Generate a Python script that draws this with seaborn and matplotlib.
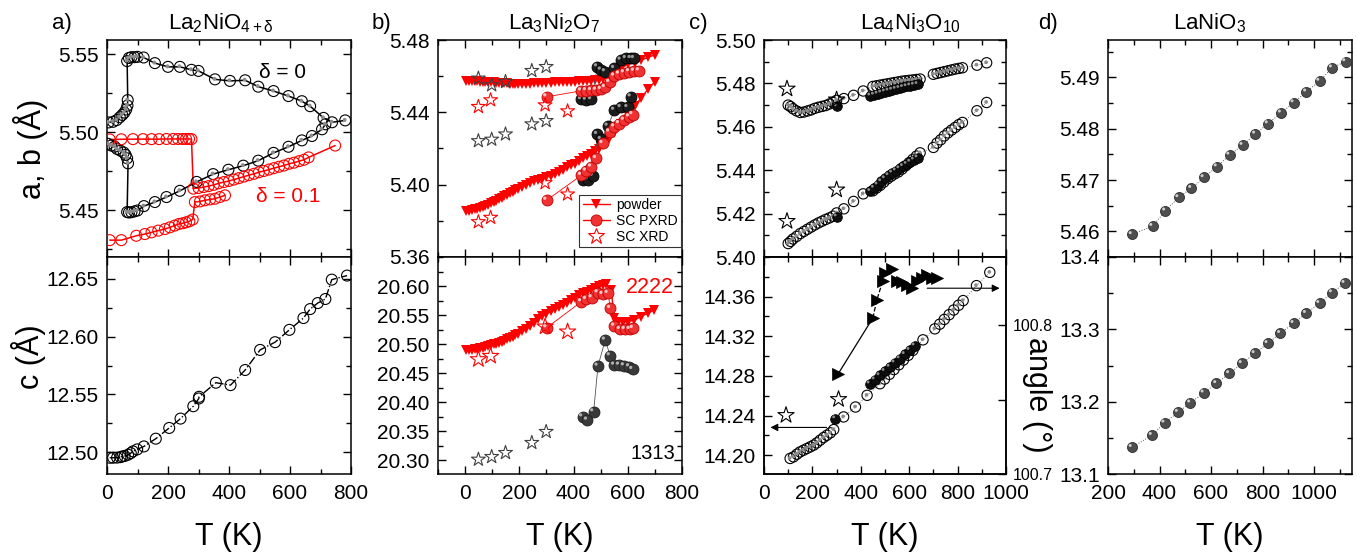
import numpy as np
import matplotlib
matplotlib.use("Agg")
import matplotlib.pyplot as plt
import seaborn as sns
from matplotlib.path import Path
from matplotlib.lines import Line2D
from matplotlib.ticker import MultipleLocator, FixedLocator, FormatStrFormatter

# ---------------- data ----------------
# panel a) La2NiO4+d, delta = 0 (black) a/b lattice parameters
a0_up_T = [5, 20, 32, 42, 50, 57, 63, 67, 68, 66, 72, 80, 90, 100, 120, 157, 200, 239, 277, 300,
           354, 403, 453, 496, 546, 595, 639, 666, 710, 738, 781]
a0_up_v = [5.5062, 5.5066, 5.5077, 5.5095, 5.5110, 5.5125, 5.5145, 5.5170, 5.5205, 5.5455, 5.5475,
           5.5480, 5.5480, 5.5482, 5.5478, 5.5442, 5.5418, 5.5418, 5.5399, 5.5392, 5.5338, 5.5328,
           5.5332, 5.5291, 5.5263, 5.5231, 5.5198, 5.5166, 5.5091, 5.5063, 5.5075]
a0_lo_T = [3, 14, 25, 33, 44, 55, 61, 66, 69, 66, 72, 80, 90, 100, 121, 157, 195, 239, 294, 348,
           398, 447, 496, 546, 595, 639, 672, 705, 716]
a0_lo_v = [5.4925, 5.4914, 5.4907, 5.4892, 5.4881, 5.4869, 5.4854, 5.4832, 5.4800, 5.4488, 5.4485,
           5.4487, 5.4492, 5.4498, 5.4526, 5.4552, 5.4584, 5.4624, 5.4681, 5.4731, 5.4759, 5.4785,
           5.4817, 5.4867, 5.4906, 5.4947, 5.4975, 5.5018, 5.5050]
# delta = 0.1 (red)
a1_up_T = [9, 47, 85, 118, 146, 171, 195, 217, 233, 248, 259, 269, 277, 283, 300, 317, 333, 350,
           366, 383, 400, 416, 432, 449, 465, 482, 498, 514, 531, 547, 564, 580, 597, 613, 630, 646,
           661, 748]
a1_up_v = [5.4953, 5.4954, 5.4955, 5.4955, 5.4955, 5.4955, 5.4956, 5.4956, 5.4956, 5.4956, 5.4956,
           5.4956, 5.4955, 5.4638, 5.4642, 5.4648, 5.4654, 5.4662, 5.4672, 5.4680, 5.4687, 5.4696,
           5.4705, 5.4715, 5.4724, 5.4733, 5.4743, 5.4751, 5.4760, 5.4769, 5.4778, 5.4786, 5.4797,
           5.4804, 5.4814, 5.4823, 5.4838, 5.4914]
a1_lo_T = [9, 47, 96, 124, 146, 168, 190, 206, 222, 236, 248, 259, 270, 281, 288, 305, 321, 338,
           354, 370, 387]
a1_lo_v = [5.4308, 5.4308, 5.4336, 5.4347, 5.4358, 5.4369, 5.4379, 5.4390, 5.4401, 5.4412, 5.4416,
           5.4422, 5.4429, 5.4440, 5.4552, 5.4556, 5.4563, 5.4569, 5.4573, 5.4584, 5.4595]
# c lattice parameter
ac_T = [9, 20, 33, 44, 50, 58, 69, 78, 85, 99, 121, 160, 204, 241, 283, 301, 302, 357, 405, 453,
        502, 551, 598, 644, 666, 691, 716, 737, 787]
ac_v = [12.4951, 12.4951, 12.4952, 12.4956, 12.4962, 12.4966, 12.4977, 12.4991, 12.5006, 12.5023,
        12.5049, 12.5116, 12.5209, 12.5290, 12.5397, 12.5464, 12.5479, 12.5601, 12.5580, 12.5711,
        12.5885, 12.5952, 12.6059, 12.6161, 12.6239, 12.6291, 12.6326, 12.6494, 12.6529]

# panel b) La3Ni2O7
pw_T_lo = [5, 15, 25, 35, 45, 55, 65, 75, 85, 95, 105, 115, 125, 135, 145, 155, 165, 175, 185,
           195, 210, 225, 240, 255, 270, 285, 300, 315, 330, 345, 360, 375, 390, 405, 420, 435,
           450, 465, 480, 495]
pw_T_hi_ab = [510, 530, 550, 575, 600, 625, 650, 675, 700]
pw_T_hi_c = [510, 520, 539, 550, 565, 582, 600, 624, 648, 673, 697]
pw_a_up = [5.4575, 5.4574, 5.4573, 5.4572, 5.4571, 5.4570, 5.4569, 5.4568, 5.4567, 5.4566, 5.4565,
           5.4564, 5.4563, 5.4562, 5.4561, 5.4560, 5.4559, 5.4558, 5.4558, 5.4557, 5.4557, 5.4558,
           5.4559, 5.4560, 5.4561, 5.4562, 5.4563, 5.4564, 5.4565, 5.4566, 5.4567, 5.4568, 5.4569,
           5.4570, 5.4571, 5.4572, 5.4573, 5.4575, 5.4577, 5.4580,
           5.4586, 5.4595, 5.4612, 5.4645, 5.4665, 5.4675, 5.4688, 5.4705, 5.4717]
pw_a_lo = [5.3855, 5.3857, 5.3860, 5.3864, 5.3868, 5.3873, 5.3878, 5.3884, 5.3890, 5.3897, 5.3904,
           5.3912, 5.3920, 5.3928, 5.3936, 5.3944, 5.3952, 5.3960, 5.3968, 5.3976, 5.3988, 5.4000,
           5.4010, 5.4020, 5.4027, 5.4033, 5.4040, 5.4050, 5.4060, 5.4072, 5.4083, 5.4095, 5.4106,
           5.4117, 5.4130, 5.4145, 5.4160, 5.4172, 5.4185, 5.4200,
           5.4222, 5.4250, 5.4283, 5.4335, 5.4385, 5.4434, 5.4482, 5.4528, 5.4570]
pw_c = [20.4893, 20.4897, 20.4903, 20.4910, 20.4919, 20.4929, 20.4940, 20.4951, 20.4963, 20.4977,
        20.4992, 20.5007, 20.5024, 20.5042, 20.5060, 20.5080, 20.5102, 20.5124, 20.5148, 20.5175,
        20.5218, 20.5262, 20.5315, 20.5370, 20.5425, 20.5480, 20.5520, 20.5562, 20.5598, 20.5635,
        20.5675, 20.5715, 20.5757, 20.5799, 20.5838, 20.5873, 20.5905, 20.5937, 20.5968, 20.6005,
        20.6020, 20.6030, 20.5930, 20.5443, 20.5385, 20.5385, 20.5385, 20.5414, 20.5471, 20.5529,
        20.5586]
px_up_T = [301, 429, 447, 466, 484, 502, 517, 533, 551, 569, 587, 606, 624, 642]
px_up_v = [5.4486, 5.4519, 5.4520, 5.4521, 5.4523, 5.4527, 5.4538, 5.4566, 5.4601, 5.4612, 5.4619,
           5.4625, 5.4628, 5.4630]
px_lo_T = [301, 429, 447, 466, 484, 508, 533, 551, 569, 587, 606, 618]
px_lo_v = [5.3914, 5.4052, 5.4076, 5.4098, 5.4145, 5.4228, 5.4292, 5.4320, 5.4338, 5.4357, 5.4375,
           5.4388]
px_c_T = [301, 429, 447, 468, 490, 508, 527, 536, 551, 572, 590, 608, 620]
px_c_v = [20.5282, 20.5730, 20.5770, 20.5799, 20.5885, 20.5856, 20.5874, 20.5615, 20.5310, 20.5253,
          20.5253, 20.5253, 20.5270]
bk_up_T = [429, 447, 466, 488, 502, 517, 551, 575, 594, 612, 624]
bk_up_v = [5.4471, 5.4468, 5.4471, 5.4652, 5.4634, 5.4625, 5.4643, 5.4689, 5.4698, 5.4698, 5.4698]
bk_lo_T = [435, 453, 472, 488, 502, 527, 551, 575, 600, 612]
bk_lo_v = [5.4024, 5.4028, 5.4047, 5.4278, 5.4250, 5.4324, 5.4412, 5.4427, 5.4427, 5.4486]
bk_c_T = [433, 451, 474, 490, 517, 535, 551, 569, 587, 606, 618]
bk_c_v = [20.3747, 20.3690, 20.3833, 20.4620, 20.5069, 20.4799, 20.4638, 20.4638, 20.4626, 20.4609,
          20.4563]
st_red_T = [49, 94, 295, 378]
st_red_up = [5.4431, 5.4468, 5.4440, 5.4407]
st_red_lo = [5.3794, 5.3818, 5.4010, 5.3947]
st_red_c = [20.4736, 20.4793, 20.5299, 20.5213]
st_gry_T = [49, 98, 149, 246, 299]
st_gry_up = [5.4588, 5.4551, 5.4569, 5.4630, 5.4652]
st_gry_lo = [5.4242, 5.4250, 5.4279, 5.4335, 5.4353]
st_gry_c = [20.3011, 20.3057, 20.3126, 20.3299, 20.3489]

# panel c) La4Ni3O10
c_open_T = [100, 110, 120, 135, 150, 165, 180, 195, 210, 225, 240, 255, 270, 285, 300, 330, 370,
            410, 450, 465, 480, 495, 510, 525, 540, 555, 570, 585, 600, 615, 630, 645, 700, 715,
            730, 745, 760, 775, 790, 805, 820, 880, 920]
c_open_up = [5.4700, 5.4693, 5.4683, 5.4673, 5.4666, 5.4668, 5.4673, 5.4678, 5.4685, 5.4690,
             5.4694, 5.4698, 5.4705, 5.4712, 5.4722, 5.4730, 5.4745, 5.4765, 5.4786, 5.4789,
             5.4792, 5.4795, 5.4798, 5.4801, 5.4804, 5.4807, 5.4810, 5.4812, 5.4814, 5.4816,
             5.4818, 5.4820, 5.4842, 5.4846, 5.4850, 5.4854, 5.4858, 5.4862, 5.4866, 5.4869,
             5.4872, 5.4884, 5.4895]
c_open_lo = [5.4062, 5.4072, 5.4083, 5.4095, 5.4108, 5.4118, 5.4128, 5.4138, 5.4148, 5.4157,
             5.4165, 5.4173, 5.4180, 5.4188, 5.4203, 5.4222, 5.4256, 5.4291, 5.4305, 5.4318,
             5.4330, 5.4345, 5.4360, 5.4372, 5.4383, 5.4392, 5.4405, 5.4420, 5.4435, 5.4450,
             5.4465, 5.4480, 5.4505, 5.4525, 5.4540, 5.4558, 5.4572, 5.4585, 5.4597, 5.4610,
             5.4620, 5.4674, 5.4712]
cb_T = [301, 440, 455, 470, 485, 500, 515, 530, 545, 560, 575, 590, 605, 620, 635]
cb_up = [5.4694, 5.4743, 5.4747, 5.4752, 5.4757, 5.4762, 5.4766, 5.4770, 5.4774, 5.4778, 5.4782,
         5.4786, 5.4790, 5.4793, 5.4796]
cb_lo = [5.4186, 5.4303, 5.4318, 5.4333, 5.4348, 5.4362, 5.4376, 5.4388, 5.4398, 5.4408, 5.4418,
         5.4428, 5.4438, 5.4448, 5.4458]
cs_T = [95, 300]
cs_up = [5.4775, 5.4725]
cs_lo = [5.4165, 5.4310]
cc_open_T = [108, 122, 136, 149, 163, 177, 191, 205, 218, 232, 246, 260, 274, 288, 329, 378, 426,
             479, 498, 518, 537, 557, 576, 596, 615, 657, 706, 726, 745, 765, 784, 804, 823, 878,
             933]
cc_open_v = [14.1967, 14.1983, 14.2010, 14.2033, 14.2050, 14.2067, 14.2084, 14.2101, 14.2124,
             14.2151, 14.2178, 14.2201, 14.2225, 14.2258, 14.2386, 14.2486, 14.2604, 14.2721,
             14.2768, 14.2816, 14.2864, 14.2912, 14.2960, 14.3008, 14.3057, 14.3164, 14.3275,
             14.3322, 14.3370, 14.3418, 14.3465, 14.3513, 14.3560, 14.3711, 14.3845]
cc_blk_T = [295, 437, 458, 478, 499, 520, 540, 561, 582, 602, 623]
cc_blk_v = [14.2369, 14.2721, 14.2763, 14.2805, 14.2848, 14.2890, 14.2933, 14.2975, 14.3018,
            14.3060, 14.3105]
cc_star_T = [91, 308]
cc_star_v = [14.2403, 14.2564]
ang_T = [305, 450, 466, 491, 499, 528, 549, 570, 590, 611, 631, 652, 673, 693, 714]
ang_v = [100.767, 100.805, 100.817, 100.830, 100.835, 100.838, 100.830, 100.829, 100.827, 100.825,
         100.830, 100.832, 100.834, 100.832, 100.832]
arrow_left = (270, 15, 14.228)      # from T, to T, at c
arrow_right = (663, 985, 100.825)   # from T, to T, at angle

# panel d) LaNiO3
d_aT = [293, 373, 423, 474, 524, 572, 623, 672, 723, 772, 821, 872, 921, 970, 1021, 1070, 1122]
d_a = [5.4594, 5.4610, 5.4640, 5.4666, 5.4684, 5.4705, 5.4726, 5.4749, 5.4768, 5.4790, 5.4810,
       5.4831, 5.4851, 5.4872, 5.4893, 5.4919, 5.4931]
d_cT = [293, 371, 420, 472, 520, 572, 621, 671, 720, 770, 820, 869, 921, 969, 1021, 1070, 1119]
d_c = [13.1370, 13.1536, 13.1707, 13.1855, 13.1984, 13.2122, 13.2252, 13.2390, 13.2529, 13.2667,
       13.2806, 13.2945, 13.3083, 13.3222, 13.3360, 13.3508, 13.3637]

titles = [r'La$_2$NiO$_{4+\delta}$', r'La$_3$Ni$_2$O$_7$', r'La$_4$Ni$_3$O$_{10}$', r'LaNiO$_3$']
panel_tags = ['a)', 'b)', 'c)', 'd)']
legend_labels = ['powder', 'SC PXRD', 'SC XRD']

# ---------------- style ----------------
sns.set_style("ticks")
plt.rcParams.update({
    'font.family': ['Liberation Sans', 'DejaVu Sans'],
    'mathtext.fontset': 'custom',
    'mathtext.rm': 'Liberation Sans',
    'mathtext.it': 'Liberation Sans',
    'mathtext.bf': 'Liberation Sans:bold',
    'text.color': 'black', 'axes.labelcolor': 'black',
    'xtick.color': 'black', 'ytick.color': 'black',
    'axes.edgecolor': 'black', 'axes.linewidth': 1.1,
})

W, H = 1357, 552
fig = plt.figure(figsize=(W / 100, H / 100), dpi=100)


def rect(l, r, t, b):
    return [l / W, 1 - b / H, (r - l) / W, (b - t) / H]


cols = {'a': (107, 351), 'b': (438, 682), 'c': (764, 1006), 'd': (1108, 1352)}
axs = {}
for k, (l, r) in cols.items():
    axs[k + 't'] = fig.add_axes(rect(l, r, 40, 257))
    axs[k + 'b'] = fig.add_axes(rect(l, r, 257, 474))


def circ_marker(cx, cy, r):
    c = Path.circle((cx, cy), r)
    verts = np.vstack([[1.0, 0.0], [-1.0, 0.0], c.vertices])
    codes = np.concatenate([[Path.MOVETO, Path.MOVETO], c.codes])
    return Path(verts, codes)


HILITE = circ_marker(-0.36, 0.36, 0.30)
CDOT = circ_marker(-0.10, 0.10, 0.36)


def scat(ax, x, y, z=3, **kw):
    sns.scatterplot(x=np.asarray(x, float), y=np.asarray(y, float), ax=ax, legend=False,
                    zorder=z, **kw)


def line(ax, x, y, z=2, **kw):
    sns.lineplot(x=np.asarray(x, float), y=np.asarray(y, float), ax=ax, sort=False,
                 estimator=None, legend=False, zorder=z, **kw)


def balls(ax, x, y, face, edge, hi, s, z=3):
    scat(ax, x, y, z=z, s=s, color=face, edgecolor=edge, linewidth=0.6)
    scat(ax, x, y, z=z + 0.01, s=s, marker=HILITE, color=hi, edgecolor='none', linewidth=0)


def ring_dot(ax, x, y, s, z=3, edge='black', dot='#8c8c8c'):
    scat(ax, x, y, z=z, s=s, color=edge, facecolor='none', edgecolor=edge, linewidth=0.8)
    scat(ax, x, y, z=z + 0.01, s=s, marker=CDOT, color=dot, edgecolor='none', linewidth=0)


def rings(ax, x, y, s, color, z=3):
    scat(ax, x, y, z=z, s=s, color=color, facecolor='none', edgecolor=color, linewidth=0.8)


def stars(ax, x, y, color, s=110, z=5):
    scat(ax, x, y, z=z, s=s, marker='*', color=color, facecolor='none', edgecolor=color,
         linewidth=0.8)


RED = '#ff0000'

# ---- panel a ----
ax = axs['at']
line(ax, a0_up_T, a0_up_v, color='black', lw=1.1)
line(ax, a0_lo_T, a0_lo_v, color='black', lw=1.1)
ring_dot(ax, a0_up_T, a0_up_v, s=62)
ring_dot(ax, a0_lo_T, a0_lo_v, s=62)
line(ax, a1_up_T, a1_up_v, color=RED, lw=1.1)
line(ax, a1_lo_T, a1_lo_v, color=RED, lw=1.1)
rings(ax, a1_up_T, a1_up_v, 62, RED)
rings(ax, a1_lo_T, a1_lo_v, 62, RED)
ax.text(577, 5.5384, 'δ = 0', fontsize=15, ha='center', va='center')
ax.text(593, 5.4586, 'δ = 0.1', fontsize=15, ha='center', va='center', color=RED)

ax = axs['ab']
line(ax, ac_T, ac_v, color='black', lw=1.0, linestyle='-.')
rings(ax, ac_T, ac_v, 62, 'black')

# ---- panel b ----
ax = axs['bt']
pw_T_ab = pw_T_lo + pw_T_hi_ab
line(ax, pw_T_ab, pw_a_up, color=RED, lw=1.0, marker='v', markersize=6.5,
     markeredgewidth=0, markerfacecolor=RED)
line(ax, pw_T_ab, pw_a_lo, color=RED, lw=1.0, marker='v', markersize=6.5,
     markeredgewidth=0, markerfacecolor=RED)
line(ax, bk_up_T, bk_up_v, color='#555555', lw=0.6, z=2.5)
line(ax, bk_lo_T, bk_lo_v, color='#555555', lw=0.6, z=2.5)
balls(ax, bk_up_T, bk_up_v, '#1c1c1c', '#000000', '#9a9a9a', 62, z=3)
balls(ax, bk_lo_T, bk_lo_v, '#1c1c1c', '#000000', '#9a9a9a', 62, z=3)
line(ax, px_up_T, px_up_v, color=RED, lw=0.6, z=3.5)
line(ax, px_lo_T, px_lo_v, color=RED, lw=0.6, z=3.5)
balls(ax, px_up_T, px_up_v, '#f03232', '#c00000', '#ffc4c4', 62, z=4)
balls(ax, px_lo_T, px_lo_v, '#f03232', '#c00000', '#ffc4c4', 62, z=4)
stars(ax, st_red_T, st_red_up, RED)
stars(ax, st_red_T, st_red_lo, RED)
stars(ax, st_gry_T, st_gry_up, '#404040')
stars(ax, st_gry_T, st_gry_lo, '#404040')
handles = [
    Line2D([], [], color=RED, lw=1, marker='v', ms=7.5, mew=0),
    Line2D([], [], color=RED, lw=1, marker='o', ms=8, mfc='#f03232', mec='#c00000', mew=0.6),
    Line2D([], [], color=RED, lw=0, marker='*', ms=12, mfc='none', mec=RED, mew=0.8),
]
leg = ax.legend(handles, legend_labels, loc='lower right',
                bbox_to_anchor=((681 - 438) / 244, (257 - 247) / 217), borderaxespad=0,
                fontsize=10, frameon=True, fancybox=False, edgecolor='#333333', framealpha=1,
                handlelength=2.0, handletextpad=0.4, borderpad=0.25, labelspacing=0.12)
leg.get_frame().set_linewidth(0.8)

ax = axs['bb']
pw_T_c = pw_T_lo + pw_T_hi_c
line(ax, pw_T_c, pw_c, color=RED, lw=1.0, marker='v', markersize=6.5,
     markeredgewidth=0, markerfacecolor=RED)
line(ax, bk_c_T, bk_c_v, color='#555555', lw=0.6, z=2.5)
balls(ax, bk_c_T, bk_c_v, '#3a3a3a', '#202020', '#b0b0b0', 62, z=3)
line(ax, px_c_T, px_c_v, color=RED, lw=0.6, z=3.5)
balls(ax, px_c_T, px_c_v, '#f03232', '#c00000', '#ffc4c4', 62, z=4)
stars(ax, st_red_T, st_red_c, RED, s=150)
stars(ax, st_gry_T, st_gry_c, '#404040')
ax.text(680, 20.5966, '2222', fontsize=15.5, color=RED, ha='center', va='center')
ax.text(691, 20.312, '1313', fontsize=14.5, color='black', ha='center', va='center')

# ---- panel c ----
ax = axs['ct']
line(ax, c_open_T, c_open_up, color='#777777', lw=0.7, linestyle=':')
line(ax, c_open_T, c_open_lo, color='#777777', lw=0.7, linestyle=':')
ring_dot(ax, c_open_T, c_open_up, s=55)
ring_dot(ax, c_open_T, c_open_lo, s=55)
balls(ax, cb_T, cb_up, '#0e0e0e', '#000000', '#8a8a8a', 48, z=4)
balls(ax, cb_T, cb_lo, '#0e0e0e', '#000000', '#8a8a8a', 48, z=4)
stars(ax, cs_T, cs_up, 'black', s=150)
stars(ax, cs_T, cs_lo, 'black', s=150)

ax = axs['cb']
line(ax, cc_open_T, cc_open_v, color='#777777', lw=0.7, linestyle=':')
ring_dot(ax, cc_open_T, cc_open_v, s=55)
balls(ax, cc_blk_T, cc_blk_v, '#0e0e0e', '#000000', '#8a8a8a', 48, z=4)
stars(ax, cc_star_T, cc_star_v, 'black', s=150)
ax.annotate('', xy=(arrow_left[1], arrow_left[2]), xytext=(arrow_left[0], arrow_left[2]),
            arrowprops=dict(arrowstyle='-|>', color='black', lw=0.8, mutation_scale=11))
ax2 = ax.twinx()
line(ax2, ang_T[:2], ang_v[:2], color='black', lw=0.9)
line(ax2, ang_T[1:4], ang_v[1:4], color='black', lw=0.9, linestyle='--')
scat(ax2, ang_T, ang_v, z=4, s=75, marker='>', color='black', edgecolor='black', linewidth=0.5)
ax2.annotate('', xy=(arrow_right[1], arrow_right[2]), xytext=(arrow_right[0], arrow_right[2]),
             arrowprops=dict(arrowstyle='-|>', color='black', lw=0.8, mutation_scale=11))

# ---- panel d ----
ax = axs['dt']
line(ax, d_aT, d_a, color='#555555', lw=0.7, linestyle=':')
balls(ax, d_aT, d_a, '#4e4e4e', '#2e2e2e', '#cfcfcf', 52)
ax = axs['db']
line(ax, d_cT, d_c, color='#555555', lw=0.7, linestyle=':')
balls(ax, d_cT, d_c, '#4e4e4e', '#2e2e2e', '#cfcfcf', 52)


# ---------------- axes styling ----------------
TICK_FS = 15


def style(ax, xlim, ylim, yt, ymin, fmt, labels_bottom, right=True):
    ax.set_xlim(*xlim)
    ax.set_ylim(*ylim)
    ax.xaxis.set_major_locator(MultipleLocator(200))
    ax.xaxis.set_minor_locator(MultipleLocator(100))
    ax.yaxis.set_major_locator(FixedLocator(yt))
    ax.yaxis.set_minor_locator(MultipleLocator(ymin))
    ax.yaxis.set_major_formatter(FormatStrFormatter(fmt))
    ax.tick_params(which='both', direction='in', top=True, right=right, width=1.0,
                   labelsize=TICK_FS)
    ax.tick_params(which='major', length=6)
    ax.tick_params(which='minor', length=3.5)
    ax.tick_params(axis='y', pad=6)
    ax.tick_params(axis='x', pad=7, labelbottom=labels_bottom)
    ax.set_xlabel('')
    ax.set_ylabel('')
    for s in ax.spines.values():
        s.set_linewidth(1.1)
        s.set_color('black')


style(axs['at'], (0, 800), (5.420, 5.559), [5.45, 5.50, 5.55], 0.025, '%.2f', False)
style(axs['ab'], (0, 800), (12.481, 12.669), [12.50, 12.55, 12.60, 12.65], 0.025, '%.2f', True)
style(axs['bt'], (-100, 800), (5.36, 5.48), [5.36, 5.40, 5.44, 5.48], 0.02, '%.2f', False)
style(axs['bb'], (-100, 800), (20.276, 20.65),
      [20.30, 20.35, 20.40, 20.45, 20.50, 20.55, 20.60], 0.025, '%.2f', True)
style(axs['ct'], (0, 1000), (5.40, 5.50), [5.40, 5.42, 5.44, 5.46, 5.48, 5.50], 0.01, '%.2f',
      False)
style(axs['cb'], (0, 1000), (14.181, 14.40), [14.20, 14.24, 14.28, 14.32, 14.36], 0.02, '%.2f',
      True, right=False)
style(axs['dt'], (200, 1147), (5.455, 5.4973), [5.46, 5.47, 5.48, 5.49], 0.005, '%.2f', False)
style(axs['db'], (200, 1147), (13.1, 13.4), [13.1, 13.2, 13.3, 13.4], 0.05, '%.1f', True)

ax2.set_ylim(100.7, 100.846)
ax2.yaxis.set_major_locator(FixedLocator([100.7, 100.8]))
ax2.yaxis.set_minor_locator(MultipleLocator(0.05))
ax2.yaxis.set_major_formatter(FormatStrFormatter('%.1f'))
ax2.tick_params(which='both', direction='in', left=False, right=True, width=1.0, labelsize=11.5,
                pad=5)
ax2.tick_params(which='major', length=6)
ax2.tick_params(which='minor', length=6)
ax2.set_xlabel('')
ax2.set_ylabel('angle (°)', fontsize=22, rotation=270, va='center', ha='center')
ax2.yaxis.set_label_coords((1037 - 764) / 242, (474 - 395) / 217)

for k in 'abcd':
    ax = axs[k + 'b']
    ax.set_xlabel('T (K)', fontsize=22, va='center')
    ax.xaxis.set_label_coords(0.5, -(537 - 474) / 217)

axs['at'].set_ylabel('a, b (Å)', fontsize=22, va='center')
axs['at'].yaxis.set_label_coords((30 - 107) / 244, 0.5)
axs['ab'].set_ylabel('c (Å)', fontsize=22, va='center')
axs['ab'].yaxis.set_label_coords((28 - 107) / 244, 0.54)

title_x = [221, 554, 910, 1210]
tag_x = [52, 372, 689, 1038]
for t, tx, tag, gx in zip(titles, title_x, panel_tags, tag_x):
    fig.text(tx / W, 1 - 29 / H, t, fontsize=16, ha='center', va='baseline')
    fig.text(gx / W, 1 - 29 / H, tag, fontsize=16, ha='left', va='baseline')

fig.savefig('out.png', dpi=100)
